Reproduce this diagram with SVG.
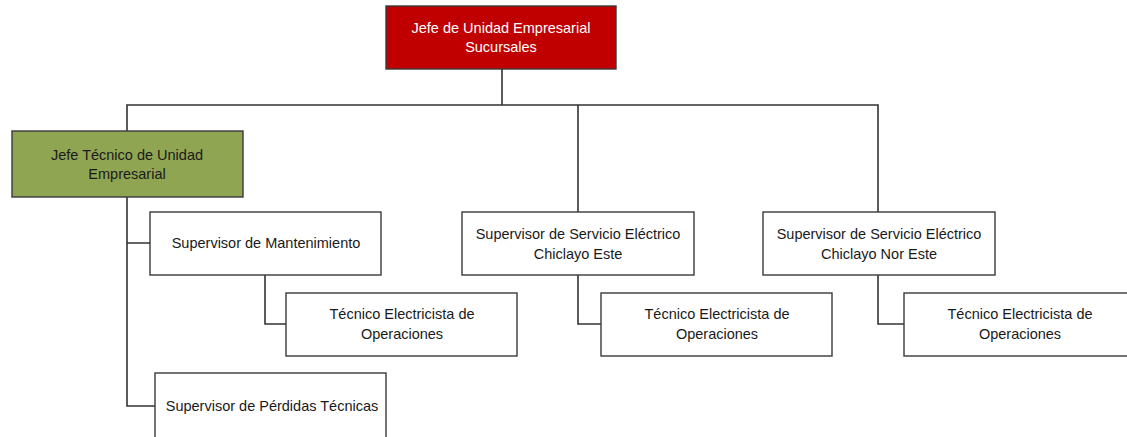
<svg xmlns="http://www.w3.org/2000/svg" width="1127" height="437" viewBox="0 0 1127 437">
<style>
.box{fill:#fff;stroke:#3a3a3a;stroke-width:1.4}
.red{fill:#C00000}
.green{fill:#8FA552}
.t{font-family:"Liberation Sans",Arial,sans-serif;font-size:14.5px;fill:#1a1a1a;text-anchor:middle;dominant-baseline:central}
.w{fill:#fff}
.c{fill:none;stroke:#333;stroke-width:1.6}
</style>
<rect width="1127" height="437" fill="#fff"/>
<g id="connectors">
<path class="c" d="M502,69 V105 M127,131 V105 H878 V212 M578,105 V212"/>
<path class="c" d="M127,197 V406 H155 M127,243 H150"/>
<path class="c" d="M265,275 V324 H286"/>
<path class="c" d="M578,275 V324 H601"/>
<path class="c" d="M878,275 V324 H904"/>
</g>
<g id="jefe-unidad">
<rect class="box red" x="386" y="6" width="230" height="63"/>
<text class="t w" x="501" y="28">Jefe de Unidad Empresarial</text>
<text class="t w" x="501" y="47">Sucursales</text>
</g>
<g id="jefe-tecnico">
<rect class="box green" x="12" y="131" width="231" height="66"/>
<text class="t" x="127" y="155">Jefe Técnico de Unidad</text>
<text class="t" x="127" y="174">Empresarial</text>
</g>
<g id="sup-mantenimiento">
<rect class="box" x="150" y="212" width="231" height="63"/>
<text class="t" x="266" y="243">Supervisor de Mantenimiento</text>
</g>
<g id="tecnico-1">
<rect class="box" x="286" y="293" width="231" height="63"/>
<text class="t" x="402" y="314">Técnico Electricista de</text>
<text class="t" x="402" y="334">Operaciones</text>
</g>
<g id="sup-perdidas">
<rect class="box" x="155" y="373" width="231" height="70"/>
<text class="t" x="272" y="406">Supervisor de Pérdidas Técnicas</text>
</g>
<g id="sup-chiclayo-este">
<rect class="box" x="462" y="212" width="232" height="63"/>
<text class="t" x="578" y="234">Supervisor de Servicio Eléctrico</text>
<text class="t" x="578" y="254">Chiclayo Este</text>
</g>
<g id="tecnico-2">
<rect class="box" x="601" y="293" width="231" height="63"/>
<text class="t" x="717" y="314">Técnico Electricista de</text>
<text class="t" x="717" y="334">Operaciones</text>
</g>
<g id="sup-chiclayo-nor-este">
<rect class="box" x="763" y="212" width="232" height="63"/>
<text class="t" x="879" y="234">Supervisor de Servicio Eléctrico</text>
<text class="t" x="879" y="254">Chiclayo Nor Este</text>
</g>
<g id="tecnico-3">
<rect class="box" x="904" y="293" width="230" height="63"/>
<text class="t" x="1020" y="314">Técnico Electricista de</text>
<text class="t" x="1020" y="334">Operaciones</text>
</g>
</svg>
